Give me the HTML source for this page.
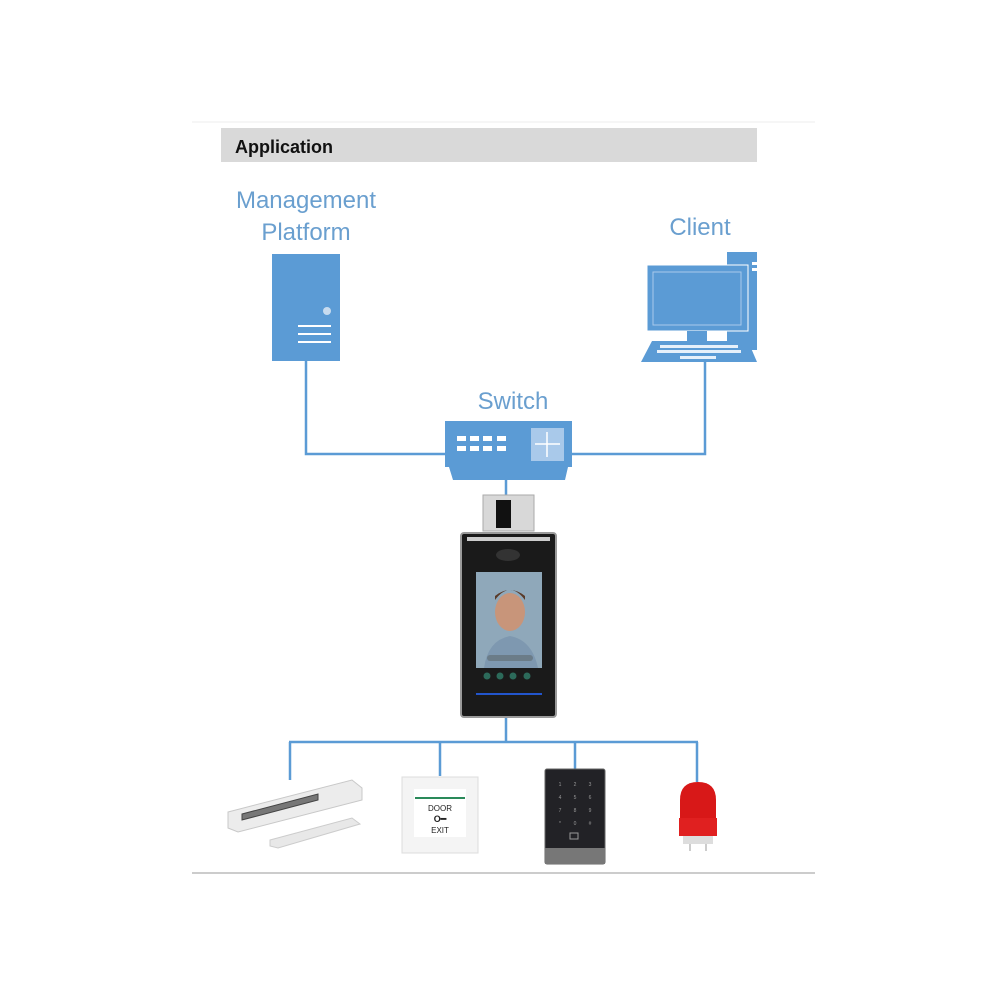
<!DOCTYPE html>
<html><head><meta charset="utf-8"><style>
html,body{margin:0;padding:0;background:#fff;}
svg{display:block;font-family:"Liberation Sans",sans-serif;}
</style></head><body>
<svg width="1000" height="1000" viewBox="0 0 1000 1000" xmlns="http://www.w3.org/2000/svg">
<rect width="1000" height="1000" fill="#fff"/>
<line x1="192" y1="122" x2="815" y2="122" stroke="#eeeeee" stroke-width="1"/>
<rect x="221" y="128" width="536" height="34" fill="#d9d9d9"/>
<text x="235" y="153" font-size="18" font-weight="bold" fill="#111">Application</text>

<g fill="#6a9fcf" font-size="24" text-anchor="middle">
<text x="306" y="208">Management</text>
<text x="306" y="240">Platform</text>
<text x="700" y="235">Client</text>
<text x="513" y="409">Switch</text>
</g>

<!-- lines -->
<g stroke="#5b9bd5" stroke-width="2.5" fill="none">
<polyline points="306,360 306,454 447,454"/>
<polyline points="705,362 705,454 572,454"/>
<line x1="506" y1="480" x2="506" y2="496"/>
<line x1="506" y1="716" x2="506" y2="742"/>
<line x1="289" y1="742" x2="698" y2="742"/>
<line x1="290" y1="742" x2="290" y2="780"/>
<line x1="440" y1="742" x2="440" y2="776"/>
<line x1="575" y1="742" x2="575" y2="770"/>
<line x1="697" y1="742" x2="697" y2="782"/>
</g>

<!-- server -->
<rect x="272" y="254" width="68" height="107" fill="#5b9bd5"/>
<circle cx="327" cy="311" r="4" fill="#c7dbef"/>
<g stroke="#fff" stroke-width="2"><line x1="298" y1="326" x2="331" y2="326"/><line x1="298" y1="334" x2="331" y2="334"/><line x1="298" y1="342" x2="331" y2="342"/></g>

<!-- client -->
<rect x="727" y="252" width="30" height="98" fill="#5b9bd5"/>
<rect x="752" y="262" width="5" height="3" fill="#fff"/><rect x="752" y="268" width="5" height="3" fill="#fff"/>
<rect x="647" y="265" width="101" height="66" fill="#5b9bd5" stroke="#fff" stroke-width="1"/>
<rect x="653" y="272" width="88" height="53" fill="#5b9bd5" stroke="#a9c9ea" stroke-width="1"/>
<rect x="687" y="331" width="20" height="10" fill="#5b9bd5"/>
<polygon points="652,341 748,341 757,362 641,362" fill="#5b9bd5"/>
<g fill="#e6f0fa"><rect x="660" y="345" width="78" height="3"/><rect x="657" y="350" width="84" height="3"/><rect x="680" y="356" width="36" height="3"/></g>

<!-- switch -->
<rect x="445" y="421" width="127" height="46" fill="#5b9bd5"/>
<polygon points="449,467 568,467 565,480 453,480" fill="#5b9bd5"/>
<rect x="531" y="428" width="33" height="33" fill="#a9c9ea"/>
<g stroke="#fff" stroke-width="1.5"><line x1="547" y1="432" x2="547" y2="457"/><line x1="535" y1="444" x2="560" y2="444"/></g>
<g fill="#fff">
<rect x="457" y="436" width="9" height="5"/><rect x="470" y="436" width="9" height="5"/><rect x="483" y="436" width="9" height="5"/><rect x="497" y="436" width="9" height="5"/>
<rect x="457" y="446" width="9" height="5"/><rect x="470" y="446" width="9" height="5"/><rect x="483" y="446" width="9" height="5"/><rect x="497" y="446" width="9" height="5"/>
</g>

<!-- terminal -->
<rect x="483" y="495" width="51" height="36" fill="#d8d8d8" stroke="#aaa"/>
<rect x="496" y="500" width="15" height="28" fill="#111"/>
<rect x="461" y="533" width="95" height="184" rx="3" fill="#1a1a1a" stroke="#9a9a9a" stroke-width="2"/>
<rect x="467" y="537" width="83" height="4" fill="#ccc"/>
<ellipse cx="508" cy="555" rx="12" ry="6" fill="#333"/>
<rect x="476" y="572" width="66" height="96" fill="#8fa8ba"/>
<ellipse cx="510" cy="612" rx="15" ry="19" fill="#c8957a"/>
<path d="M495 600 Q510 580 525 600 L525 596 Q510 584 495 596Z" fill="#5a3a28"/>
<path d="M484 668 Q488 640 510 636 Q532 640 538 668Z" fill="#7e98b0"/>
<rect x="487" y="655" width="46" height="6" rx="3" fill="#6b7c88"/>
<g fill="#2c6a5a"><circle cx="487" cy="676" r="3.5"/><circle cx="500" cy="676" r="3.5"/><circle cx="513" cy="676" r="3.5"/><circle cx="527" cy="676" r="3.5"/></g>
<rect x="476" y="693" width="66" height="2" fill="#2255cc"/>

<!-- maglock -->
<polygon points="228,812 352,780 362,788 362,800 238,832 228,828" fill="#ececec" stroke="#c8c8c8"/>
<polygon points="242,814 318,794 318,800 242,820" fill="#777" stroke="#444"/>
<polygon points="270,840 352,818 360,824 278,848 270,846" fill="#e8e8e8" stroke="#ccc"/>

<!-- exit button -->
<rect x="402" y="777" width="76" height="76" fill="#f4f4f4" stroke="#ddd"/>
<rect x="414" y="789" width="52" height="48" fill="#fff"/>
<rect x="415" y="797" width="50" height="2" fill="#2a8a5a"/>
<text x="440" y="811" font-size="8" text-anchor="middle" fill="#222">DOOR</text>
<text x="440" y="822" font-size="9" font-weight="bold" text-anchor="middle" fill="#222">O━</text>
<text x="440" y="833" font-size="8" text-anchor="middle" fill="#222">EXIT</text>

<!-- keypad -->
<rect x="545" y="769" width="60" height="95" rx="2" fill="#222226" stroke="#666"/>
<rect x="545" y="848" width="60" height="16" fill="#777"/>
<g fill="#999" font-size="5" text-anchor="middle">
<text x="560" y="786">1</text><text x="575" y="786">2</text><text x="590" y="786">3</text>
<text x="560" y="799">4</text><text x="575" y="799">5</text><text x="590" y="799">6</text>
<text x="560" y="812">7</text><text x="575" y="812">8</text><text x="590" y="812">9</text>
<text x="560" y="825">*</text><text x="575" y="825">0</text><text x="590" y="825">#</text>
</g>
<rect x="570" y="833" width="8" height="6" fill="none" stroke="#999"/>

<!-- siren -->
<path d="M680 800 Q680 782 698 782 Q716 782 716 800 L716 822 L680 822Z" fill="#d81818"/>
<rect x="679" y="818" width="38" height="18" fill="#e02020"/>
<rect x="683" y="836" width="30" height="8" fill="#ddd"/>
<line x1="690" y1="844" x2="690" y2="851" stroke="#999"/><line x1="706" y1="844" x2="706" y2="851" stroke="#999"/>

<line x1="192" y1="873" x2="815" y2="873" stroke="#bbbbbb" stroke-width="1.5"/>
</svg>
</body></html>
